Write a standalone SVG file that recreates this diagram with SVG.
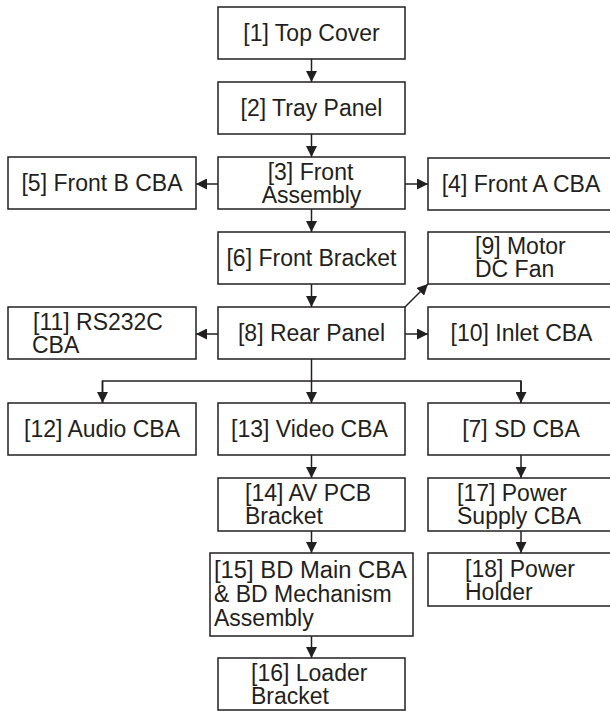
<svg xmlns="http://www.w3.org/2000/svg" width="610" height="711" viewBox="0 0 610 711">
<style>
.box{fill:#fff;stroke:#231f20;stroke-width:1.5}
.t{font-family:"Liberation Sans",Arial,Helvetica,sans-serif;font-size:23px;fill:#231f20}
.c{text-anchor:middle}
.ln{fill:none;stroke:#231f20;stroke-width:1.5}
</style>
<defs>
<marker id="ah" markerUnits="userSpaceOnUse" markerWidth="11" markerHeight="11" refX="11" refY="5.5" orient="auto">
<path d="M0,0 L11,5.5 L0,11 z" fill="#231f20"/>
</marker>
</defs>
<rect width="610" height="711" fill="#fff"/>
<g id="connectors">
<line class="ln" x1="311.5" y1="59" x2="311.5" y2="82" marker-end="url(#ah)"/>
<line class="ln" x1="311.5" y1="134" x2="311.5" y2="157" marker-end="url(#ah)"/>
<line class="ln" x1="218" y1="184" x2="196" y2="184" marker-end="url(#ah)"/>
<line class="ln" x1="405" y1="184" x2="428" y2="184" marker-end="url(#ah)"/>
<line class="ln" x1="311.5" y1="209" x2="311.5" y2="232" marker-end="url(#ah)"/>
<line class="ln" x1="311.5" y1="284" x2="311.5" y2="307" marker-end="url(#ah)"/>
<line class="ln" x1="405" y1="307" x2="428" y2="284" marker-end="url(#ah)"/>
<line class="ln" x1="218" y1="334" x2="196" y2="334" marker-end="url(#ah)"/>
<line class="ln" x1="405" y1="334" x2="428" y2="334" marker-end="url(#ah)"/>
<line class="ln" x1="311.5" y1="359" x2="311.5" y2="403" marker-end="url(#ah)"/>
<polyline class="ln" points="102.5,403 102.5,381 521,381 521,403"/>
<line class="ln" x1="102.5" y1="381" x2="102.5" y2="403" marker-end="url(#ah)"/>
<line class="ln" x1="521" y1="381" x2="521" y2="403" marker-end="url(#ah)"/>
<line class="ln" x1="311.5" y1="455" x2="311.5" y2="478" marker-end="url(#ah)"/>
<line class="ln" x1="521" y1="455" x2="521" y2="478" marker-end="url(#ah)"/>
<line class="ln" x1="311.5" y1="531" x2="311.5" y2="553" marker-end="url(#ah)"/>
<line class="ln" x1="521" y1="531" x2="521" y2="553" marker-end="url(#ah)"/>
<line class="ln" x1="311.5" y1="636" x2="311.5" y2="658" marker-end="url(#ah)"/>
</g>
<g id="n1"><rect class="box" x="218" y="7" width="187" height="52"/><text class="t c" x="311.5" y="41">[1] Top Cover</text></g>
<g id="n2"><rect class="box" x="218" y="82" width="187" height="52"/><text class="t c" x="311.5" y="116">[2] Tray Panel</text></g>
<g id="n3"><rect class="box" x="218" y="157" width="187" height="52"/><text class="t c" x="310.5" y="180">[3] Front</text><text class="t c" x="311.5" y="203">Assembly</text></g>
<g id="n5"><rect class="box" x="8" y="157" width="188" height="52"/><text class="t c" x="102" y="191">[5] Front B CBA</text></g>
<g id="n4"><rect class="box" x="428" y="158" width="184" height="52"/><text class="t c" x="521" y="192">[4] Front A CBA</text></g>
<g id="n6"><rect class="box" x="218" y="232" width="187" height="52"/><text class="t c" x="311.5" y="266">[6] Front Bracket</text></g>
<g id="n9"><rect class="box" x="428" y="232" width="184" height="52"/><text class="t" x="475" y="254">[9] Motor</text><text class="t" x="475" y="277">DC Fan</text></g>
<g id="n8"><rect class="box" x="218" y="307" width="187" height="52"/><text class="t c" x="311.5" y="341">[8] Rear Panel</text></g>
<g id="n11"><rect class="box" x="8" y="307" width="188" height="52"/><text class="t" x="33" y="330">[11] RS232C</text><text class="t" x="32" y="353">CBA</text></g>
<g id="n10"><rect class="box" x="428" y="307" width="184" height="52"/><text class="t c" x="521.5" y="341">[10] Inlet CBA</text></g>
<g id="n12"><rect class="box" x="8" y="403" width="188" height="52"/><text class="t c" x="102" y="437">[12] Audio CBA</text></g>
<g id="n13"><rect class="box" x="218" y="403" width="187" height="52"/><text class="t c" x="309.5" y="437">[13] Video CBA</text></g>
<g id="n7"><rect class="box" x="428" y="403" width="184" height="52"/><text class="t c" x="521" y="437">[7] SD CBA</text></g>
<g id="n14"><rect class="box" x="218" y="478" width="187" height="53"/><text class="t" x="245" y="501">[14] AV PCB</text><text class="t" x="245" y="524">Bracket</text></g>
<g id="n17"><rect class="box" x="428" y="478" width="184" height="53"/><text class="t" x="457" y="501">[17] Power</text><text class="t" x="457" y="524">Supply CBA</text></g>
<g id="n15"><rect class="box" x="210" y="553" width="203" height="83"/><text class="t" x="214" y="578" textLength="193" lengthAdjust="spacingAndGlyphs">[15] BD Main CBA</text><text class="t" x="214" y="602">&amp; BD Mechanism</text><text class="t" x="214" y="626">Assembly</text></g>
<g id="n18"><rect class="box" x="428" y="553" width="184" height="53"/><text class="t" x="465" y="577">[18] Power</text><text class="t" x="465" y="600">Holder</text></g>
<g id="n16"><rect class="box" x="218" y="658" width="187" height="52"/><text class="t" x="251" y="681">[16] Loader</text><text class="t" x="251" y="704">Bracket</text></g>
</svg>
